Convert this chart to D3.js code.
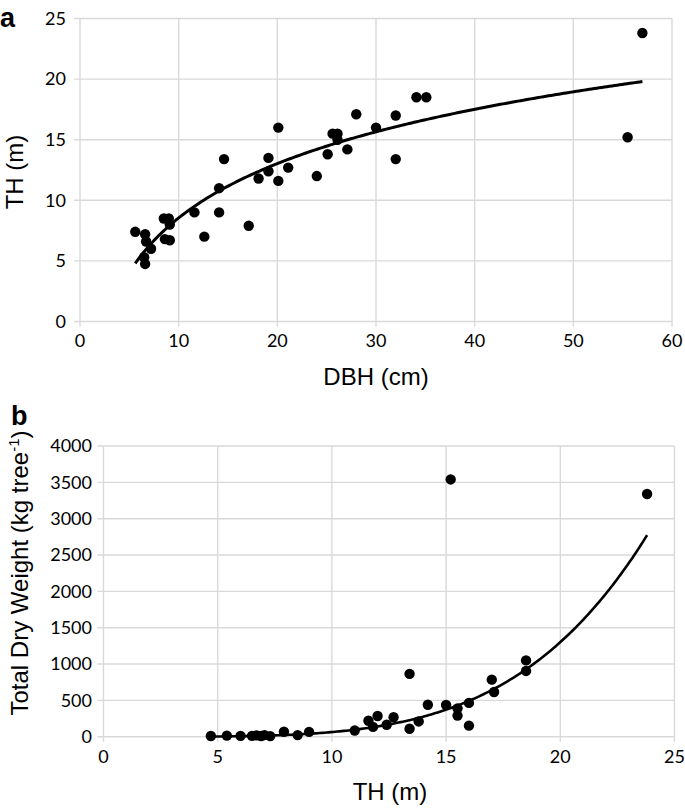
<!DOCTYPE html>
<html><head><meta charset="utf-8">
<script src="https://cdn.jsdelivr.net/npm/d3@7"></script>
<style>body{margin:0;background:#fff}svg{display:block}</style>
</head><body>
<script>
// Panel a: DBH (cm) vs TH (m)
const dbhA = [5.6,6.6,6.7,7.2,6.5,6.6,8.5,9.0,9.1,8.6,9.1,11.6,12.6,14.1,14.1,14.6,17.1,18.1,19.1,19.1,20.1,20.1,21.1,24.0,25.1,25.6,26.1,26.1,27.1,28.0,30.0,32.0,32.0,34.1,35.1,55.5,57.0];
const thA  = [7.4,7.2,6.6,6.0,5.3,4.75,8.5,8.5,8.0,6.8,6.7,9.0,7.0,9.0,11.0,13.4,7.9,11.8,13.5,12.4,16.0,11.6,12.7,12.0,13.8,15.5,15.5,15.0,14.2,17.1,16.0,17.0,13.4,18.5,18.5,15.2,23.8];
const xTicksA = [0,10,20,30,40,50,60];
const yTicksA = [0,5,10,15,20,25];
const trendA = {a:6.465, b:-6.34, x0:5.6, x1:57.0}; // TH = a*ln(DBH)+b

// Panel b: TH (m) vs total dry weight (kg tree-1)
const thB = [4.7,5.4,6.0,6.5,6.7,6.9,7.05,7.3,7.9,8.5,9.0,11.0,11.6,11.8,12.0,12.4,12.7,13.4,13.4,13.8,14.2,15.0,15.2,15.5,15.5,16.0,16.0,17.0,17.1,18.5,18.5,23.8];
const dwB = [10,15,12,12,18,10,22,8,68,22,66,85,220,135,285,165,268,865,110,210,440,436,3540,390,290,465,152,785,615,1050,905,3340];
const xTicksB = [0,5,10,15,20,25];
const yTicksB = [0,500,1000,1500,2000,2500,3000,3500,4000];
const trendB = {a:0.00285, b:4.35, x0:4.7, x1:23.8}; // DW = a*TH^b

const W=685,H=810;
const svg=d3.select("body").append("svg").attr("width",W).attr("height",H);
const grid="#d9d9d9", tickFont="Lato, 'Open Sans', sans-serif", titleFont="'Liberation Sans', Arial, sans-serif";

function panel(cfg){
  const x=d3.scaleLinear().domain(cfg.xd).range([cfg.l,cfg.r]);
  const y=d3.scaleLinear().domain(cfg.yd).range([cfg.b,cfg.t]);
  const g=svg.append("g");
  g.selectAll(".gx").data(cfg.xt).join("line")
    .attr("x1",d=>x(d)).attr("x2",d=>x(d)).attr("y1",cfg.t).attr("y2",cfg.b+5)
    .attr("stroke",grid).attr("stroke-width",1.4);
  g.selectAll(".gy").data(cfg.yt).join("line")
    .attr("x1",cfg.l-6).attr("x2",cfg.r).attr("y1",d=>y(d)).attr("y2",d=>y(d))
    .attr("stroke",grid).attr("stroke-width",1.4);
  g.selectAll(".tx").data(cfg.xt).join("text")
    .attr("x",d=>x(d)).attr("y",cfg.xlabY).attr("text-anchor","middle")
    .attr("font-family",tickFont).attr("font-size",18).attr("fill","#000").text(d=>d);
  g.selectAll(".ty").data(cfg.yt).join("text")
    .attr("x",cfg.ylabX).attr("y",d=>y(d)).attr("dy","0.35em").attr("text-anchor","end")
    .attr("font-family",tickFont).attr("font-size",18).attr("fill","#000").text(d=>d);
  const n=200, pts=d3.range(n+1).map(i=>cfg.tr.x0+(cfg.tr.x1-cfg.tr.x0)*i/n);
  g.append("path").datum(pts)
    .attr("d",d3.line().x(d=>x(d)).y(d=>y(cfg.f(d))))
    .attr("fill","none").attr("stroke","#000").attr("stroke-width",cfg.lw);
  g.selectAll(".pt").data(cfg.xs).join("circle")
    .attr("cx",d=>x(d)).attr("cy",(d,i)=>y(cfg.ys[i])).attr("r",5.2).attr("fill","#000");
  return {x,y};
}

panel({xd:[0,60],yd:[0,25],l:80,r:672,t:18.5,b:321.5,xt:xTicksA,yt:yTicksA,
  xlabY:347,ylabX:66,xs:dbhA,ys:thA,tr:trendA,lw:3,f:v=>trendA.a*Math.log(v)+trendA.b});
panel({xd:[0,25],yd:[0,4000],l:103.5,r:674.5,t:446,b:736.7,xt:xTicksB,yt:yTicksB,
  xlabY:763,ylabX:92,xs:thB,ys:dwB,tr:trendB,lw:2.6,f:v=>trendB.a*Math.pow(v,trendB.b)});

svg.append("text").attr("x",0).attr("y",27).attr("font-family",titleFont).attr("font-weight","bold")
  .attr("font-size",27).text("a");
svg.append("text").attr("x",11).attr("y",425).attr("font-family",titleFont).attr("font-weight","bold")
  .attr("font-size",27).text("b");

svg.append("text").attr("x",376).attr("y",385).attr("text-anchor","middle")
  .attr("font-family",titleFont).attr("font-size",24).text("DBH (cm)");
svg.append("text").attr("x",390).attr("y",800).attr("text-anchor","middle")
  .attr("font-family",titleFont).attr("font-size",24).text("TH (m)");
svg.append("text").attr("transform","translate(23,172) rotate(-90)").attr("text-anchor","middle")
  .attr("font-family",titleFont).attr("font-size",24).text("TH (m)");
const yb=svg.append("text").attr("transform","translate(28,573) rotate(-90)").attr("text-anchor","middle")
  .attr("font-family",titleFont).attr("font-size",24);
yb.append("tspan").text("Total Dry Weight (kg tree");
yb.append("tspan").attr("font-size",15).attr("dy",-9).text("-1");
yb.append("tspan").attr("dy",9).text(")");
</script>
</body></html>
